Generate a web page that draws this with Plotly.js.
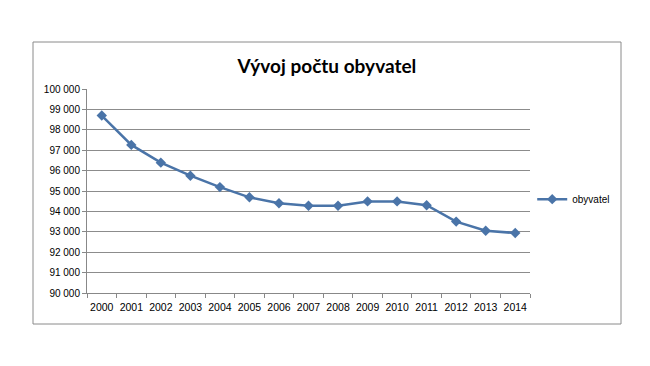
<!DOCTYPE html>
<html>
<head>
<meta charset="utf-8">
<script src="https://cdn.plot.ly/plotly-3.0.1.min.js"></script>
<style>html,body{margin:0;padding:0;background:#fff;}#chart{width:650px;height:366px;}</style>
</head>
<body>
<div id="chart"></div>
<script>
const years = ["2000","2001","2002","2003","2004","2005","2006","2007","2008","2009","2010","2011","2012","2013","2014"];
const obyvatel = [98700, 97260, 96390, 95750, 95190, 94690, 94400, 94280, 94280, 94490, 94490, 94300, 93500, 93050, 92940];
const seriesName = "obyvatel";
const chartTitle = "Vývoj počtu obyvatel";

const lineColor = "#4a74a8";
const trace = {
  x: years, y: obyvatel, name: seriesName, type: "scatter", mode: "lines+markers",
  line: {color: lineColor, width: 2.5},
  marker: {symbol: "diamond", size: 8, color: lineColor}
};
const layout = {
  width: 650, height: 366,
  margin: {l: 87, r: 120, t: 89, b: 73},
  paper_bgcolor: "#fff", plot_bgcolor: "#fff",
  separators: ", ",
  font: {family: "Liberation Sans, Arial, sans-serif", size: 10, color: "#000"},
  title: {text: chartTitle, font: {family: "Lato, sans-serif", size: 19, color: "#000", weight: "bold"},
          xref: "container", yref: "container", x: 0.503, xanchor: "center", y: 0.82, yanchor: "middle"},
  xaxis: {type: "category", range: [-0.5, 14.5], showgrid: false, showline: true, linecolor: "#888", linewidth: 1,
          ticks: "outside", tickson: "boundaries", ticklen: 4, tickcolor: "#888", tickangle: 0, ticklabelstandoff: 4,
          tickfont: {family: "Liberation Sans Narrow, Liberation Sans, sans-serif", size: 10.5}, fixedrange: true},
  yaxis: {range: [90000, 100000], dtick: 1000, tickformat: ",d", showgrid: true, gridcolor: "#8c8c8c", gridwidth: 1,
          showline: true, linecolor: "#888", linewidth: 1, ticks: "outside", ticklen: 4, tickcolor: "#888",
          zeroline: false, tickfont: {size: 10}, fixedrange: true},
  showlegend: true,
  legend: {x: 1.005, xanchor: "left", y: 0.46, yanchor: "middle", font: {size: 10}, bgcolor: "rgba(0,0,0,0)"},
  shapes: [{type: "rect", xref: "paper", yref: "paper", x0: (33-87)/443, x1: (621-87)/443, y0: (293-324)/204, y1: (293-42)/204,
            line: {color: "#8a8a8a", width: 1}, fillcolor: "rgba(0,0,0,0)", layer: "below"}]
};
Plotly.newPlot("chart", [trace], layout, {displayModeBar: false, staticPlot: true});
</script>
</body>
</html>
